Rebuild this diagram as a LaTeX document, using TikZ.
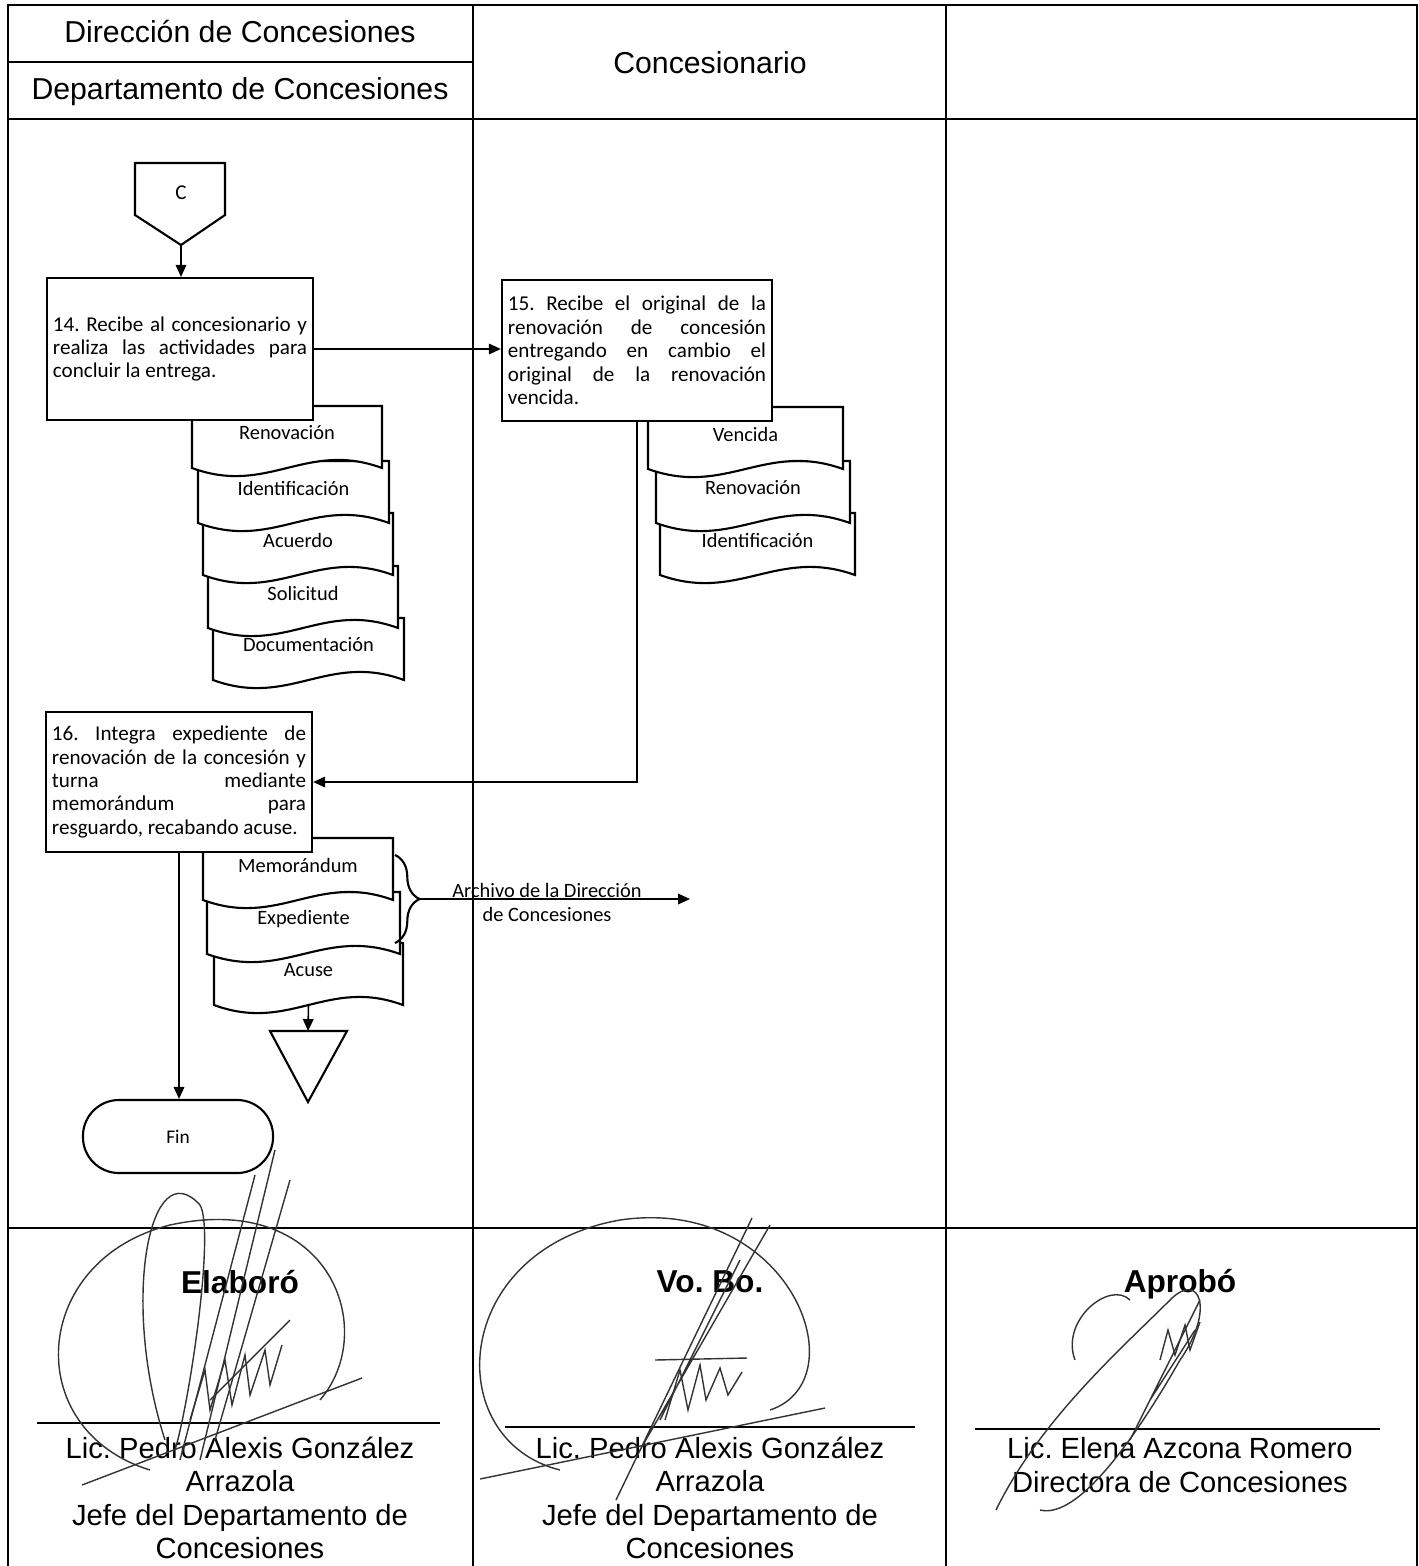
\documentclass[tikz,border=0pt]{standalone}
\usepackage{fontspec}
\setmainfont{Liberation Sans}
\newfontfamily\calib{Carlito}
\usetikzlibrary{positioning,arrows.meta,decorations.pathreplacing}
\hyphenpenalty=10000
\exhyphenpenalty=10000
\frenchspacing

% document symbol: #1 name, #2 left, #3 top, #4 width, #5 label (pixel units)
\newcommand{\docu}[5]{%
  \pgfmathsetmacro{\xr}{#2+#4}
  \pgfmathsetmacro{\yb}{#3+62}
  \draw[shapeline, fill=white] (#2,#3) -- (\xr,#3) -- (\xr,\yb)
    .. controls ({#2+0.6*#4},\yb-28) and ({#2+0.4*#4},\yb+28) .. (#2,\yb) -- cycle;
  \node[doclbl] (#1) at ({#2+#4/2},#3+27) {#5};
  \coordinate (#1-b) at ({#2+#4/2},\yb);
}

\begin{document}
\begin{tikzpicture}[x=0.01cm, y=-0.01cm,
  lane/.style={line width=0.6pt},
  shapeline/.style={line width=0.6pt},
  stepbox/.style={draw, fill=white, line width=0.6pt, inner xsep=0.06cm, inner ysep=0pt,
    align=justify, font=\calib\fontsize{6}{6.65}\selectfont},
  doclbl/.style={font=\calib\fontsize{5.8}{7}\selectfont},
  flow/.style={-{Triangle[length=3.4pt,width=3pt]}, line width=0.45pt},
  hdr/.style={font=\fontsize{8.6}{10}\selectfont},
  firma/.style={font=\fontsize{8.3}{9.5}\selectfont, align=center},
  cargo/.style={font=\bfseries\fontsize{9}{10}\selectfont},
  sig/.style={line width=0.4pt, black!80},
]
\useasboundingbox (0,0) rectangle (1419,1566);

% --- lanes
\draw[lane] (8,1566) -- (8,5) -- (1417,5) -- (1417,1566);
\draw[lane] (473,5) -- (473,1566);
\draw[lane] (946,5) -- (946,1566);
\draw[lane] (8,119) -- (1417,119);
\draw[lane] (8,62) -- (473,62);
\draw[lane] (8,1228) -- (1417,1228);

\node[hdr] (hDir) at (240,32) {Dirección de Concesiones};
\node[hdr] (hDep) at (240,92) {Departamento de Concesiones};
\node[hdr] (hCon) at (710,63) {Concesionario};

% --- off-page connector
\draw[shapeline] (135,163) -- (225,163) -- (225,215) -- (181,245) -- (135,215) -- cycle;
\node[font=\calib\fontsize{6}{7}\selectfont] (conC) at (181,193) {C};
\coordinate (cApex) at (181,245);

% --- documents (drawn last-to-first so upper sheets overlap)
\foreach \nm/\x/\y/\w/\lbl in {dDoc/213/618/191/Documentación, dSol/208/566/190/Solicitud,
    dAcu/203/513/190/Acuerdo, dIde/198/461/191/Identificación, dRen/192/406/190/Renovación,
    eIde/660/513/195/Identificación, eRen/656/461/194/Renovación, eVen/648/407/195/Vencida,
    fAcu/214/943/189/Acuse, fExp/207/892/193/Expediente, fMem/203/838/190/Memorándum} {
  \docu{\nm}{\x}{\y}{\w}{\lbl}
}

% --- activities
\node[stepbox, text width=2.54cm, minimum height=1.42cm] (paso14) at (180,349)
  {14. Recibe al concesionario y\linebreak realiza las actividades para\linebreak concluir la entrega.};
\node[stepbox, text width=2.58cm, minimum height=1.41cm] (paso15) at (637,350.5)
  {15. Recibe el original de la\linebreak renovación de concesión\linebreak entregando en cambio el\linebreak original de la renovación\linebreak vencida.};
\node[stepbox, text width=2.54cm, minimum height=1.40cm] (paso16) at (179,782)
  {16. Integra expediente de\linebreak renovación de la concesión y\linebreak turna mediante\linebreak memorándum para\linebreak resguardo, recabando acuse.};

\node[draw, line width=0.6pt, rounded corners=0.36cm, minimum width=1.9cm, minimum height=0.73cm,
  font=\calib\fontsize{5.5}{6}\selectfont] (fin) at (178,1136.5) {Fin};

% --- archive triangle
\draw[shapeline] (270,1031) -- (347,1031) -- (308,1102) -- cycle;
\coordinate (triTop) at (308,1031);

% --- brace to archive
\draw[line width=0.6pt, decorate, decoration={brace, amplitude=7pt}] (395,855) -- (395,943);
\coordinate (llave) at (418,899);
\coordinate (archivo) at (690,899);
\node[doclbl] (archA) at (547,890) {Archivo de la Dirección};
\node[doclbl] (archB) at (547,914) {de Concesiones};

% --- connectors
\draw[flow] (cApex) -- (cApex |- paso14.north);
\draw[flow] (paso14.east) -- (paso14.east -| paso15.west);
\draw[flow] (paso15.south) |- (paso16.east);
\draw[flow] (paso16.south) -- (paso16.south |- fin.north);
\draw[flow] (fAcu-b) -- (triTop);
\draw[flow] (llave) -- (archivo);

% --- signatures
\foreach \xa/\xb/\yl in {37/440/1423, 505/915/1427, 975/1380/1429} {
  \draw[line width=0.8pt] (\xa,\yl) -- (\xb,\yl);
}
\node[cargo] (elab) at (240,1282) {Elaboró};
\node[cargo] (vobo) at (710,1282) {Vo. Bo.};
\node[cargo] (aprob) at (1180,1284) {Aprobó};
\node[firma] (nom1) at (240,1498) {Lic. Pedro Alexis González\\ Arrazola\\ Jefe del Departamento de\\ Concesiones};
\node[firma] (nom2) at (710,1498) {Lic. Pedro Alexis González\\ Arrazola\\ Jefe del Departamento de\\ Concesiones};
\node[firma] (nom3) at (1180,1465) {Lic. Elena Azcona Romero\\ Directora de Concesiones};

% handwritten strokes
\draw[sig] (150,1470) .. controls (20,1430) and (30,1260) .. (170,1225) .. controls (330,1190) and (380,1330) .. (320,1400);
\draw[sig] (165,1440) .. controls (120,1300) and (150,1150) .. (200,1205) .. controls (215,1230) and (190,1400) .. (175,1450);
\draw[sig] (180,1460) -- (255,1175) (200,1460) -- (275,1150) (215,1440) -- (290,1180);
\draw[sig] (82,1485) -- (362,1378) (210,1400) -- (290,1320);
\draw[sig] (190,1420) -- (205,1370) -- (210,1410) -- (225,1360) -- (232,1405) -- (245,1355) -- (250,1395) -- (265,1350) -- (270,1385) -- (282,1345);
\draw[sig] (560,1470) .. controls (440,1440) and (450,1250) .. (620,1220) .. controls (790,1195) and (860,1380) .. (770,1410);
\draw[sig] (616,1500) -- (752,1218) (640,1450) -- (770,1225) (660,1420) -- (740,1260);
\draw[sig] (480,1479) -- (825,1408) (655,1360) -- (747,1358);
\draw[sig] (665,1420) -- (680,1370) -- (688,1410) -- (700,1365) -- (706,1400) -- (720,1368) -- (728,1395) -- (742,1372);
\draw[sig] (996,1510) .. controls (1040,1420) and (1120,1350) .. (1170,1300) .. controls (1200,1270) and (1215,1310) .. (1180,1360) .. controls (1140,1430) and (1080,1520) .. (1040,1510);
\draw[sig] (1075,1360) .. controls (1060,1320) and (1110,1280) .. (1130,1300);
\draw[sig] (1130,1440) -- (1200,1300) (1150,1400) -- (1195,1330);
\draw[sig] (1160,1360) -- (1168,1330) -- (1175,1355) -- (1185,1325) -- (1190,1350) -- (1200,1322);
\end{tikzpicture}
\end{document}
